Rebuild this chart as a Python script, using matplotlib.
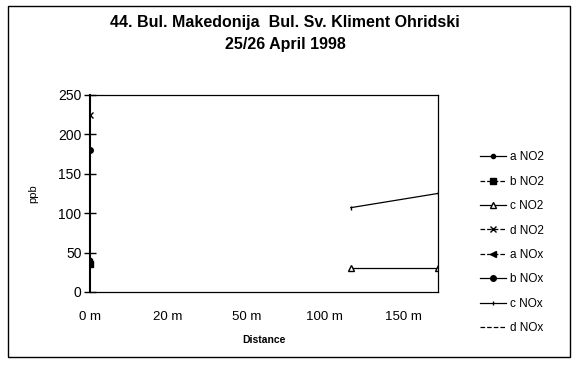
import numpy as np
import matplotlib
matplotlib.use("Agg")
import matplotlib.pyplot as plt
from matplotlib.patches import Rectangle

plt.rcParams['font.family'] = ['Liberation Sans', 'DejaVu Sans']

# measurement sites along the transect
distances = ['0 m', '20 m', '50 m', '100 m', '150 m']

# concentrations in ppb, NaN where nothing was measured
a_no2 = [40, np.nan, np.nan, np.nan, np.nan]
b_no2 = [35, np.nan, np.nan, np.nan, np.nan]
c_no2 = [np.nan, np.nan, np.nan, 30, 30]
d_no2 = [225, np.nan, np.nan, np.nan, np.nan]
a_nox = [np.nan, np.nan, np.nan, np.nan, np.nan]
b_nox = [180, np.nan, np.nan, np.nan, np.nan]
c_nox = [np.nan, np.nan, np.nan, 107, 125]
d_nox = [np.nan, np.nan, np.nan, np.nan, np.nan]

series = [
    ('a NO2', a_no2, dict(marker='.', ms=6, ls='-')),
    ('b NO2', b_no2, dict(marker='s', ms=4, ls='--')),
    ('c NO2', c_no2, dict(marker='^', ms=4, mfc='white', ls='-')),
    ('d NO2', d_no2, dict(marker='x', ms=4, ls='--')),
    ('a NOx', a_nox, dict(marker='<', ms=4, ls='--')),
    ('b NOx', b_nox, dict(marker='o', ms=4, ls='-')),
    ('c NOx', c_nox, dict(marker='|', ms=3, ls='-')),
    ('d NOx', d_nox, dict(marker='', ls='--')),
]

fig = plt.figure(figsize=(5.76, 3.71), dpi=100)
fig.patches.append(Rectangle((0.014, 0.038), 0.976, 0.946, transform=fig.transFigure,
                             fill=False, edgecolor='black', linewidth=1.0))

ax = fig.add_axes([0.156, 0.213, 0.604, 0.531])
x = np.arange(len(distances))
for label, vals, style in series:
    ax.plot(x, vals, color='black', linewidth=0.9, label=label, **style)

ax.set_xlim(0, len(distances) - 1)
ax.set_ylim(0, 250)
ax.set_yticks(range(0, 251, 50))
# category labels sit a little left of their data columns
ax.set_xticks(x * 0.9)
ax.set_xticklabels(distances)
ax.tick_params(axis='y', direction='inout', length=8, width=1, labelsize=10, pad=2)
ax.tick_params(axis='x', length=0, labelsize=9.5, pad=14)
for side in ['top', 'right', 'bottom']:
    ax.spines[side].set_linewidth(0.9)
ax.spines['left'].set_linewidth(1.5)

ax.set_ylabel('ppb', fontsize=8, labelpad=14)
ax.set_xlabel('Distance', fontsize=7.5, fontweight='bold', labelpad=8)

fig.text(0.495, 0.94, '44. Bul. Makedonija  Bul. Sv. Kliment Ohridski',
         ha='center', va='center', fontsize=11.5, fontweight='bold')
fig.text(0.495, 0.881, '25/26 April 1998',
         ha='center', va='center', fontsize=11.5, fontweight='bold')

fig.legend(loc='upper left', bbox_to_anchor=(0.834, 0.592), frameon=False,
           fontsize=8.5, handlelength=2.2, handletextpad=0.3, labelspacing=1.05,
           borderaxespad=0, borderpad=0)

fig.savefig('out.png', dpi=100)
